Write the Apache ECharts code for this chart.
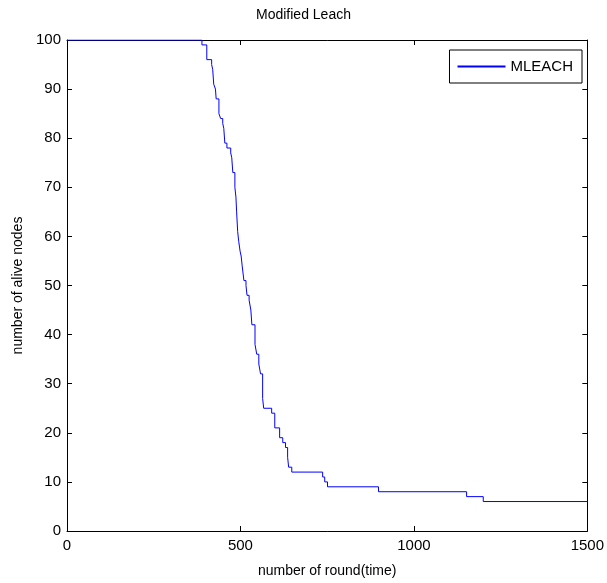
<!DOCTYPE html>
<html>
<head>
<meta charset="utf-8">
<script src="https://cdn.jsdelivr.net/npm/echarts@6/dist/echarts.min.js"></script>
<style>html,body{margin:0;padding:0;background:#fff}#c{width:607px;height:583px}</style>
</head>
<body>
<div id="c"></div>
<script>
const rounds = [0,389,403,417,420,423,428,430,438,443,449,452,455,461,472,475,478,484,487,489,492,495,499,502,505,510,516,519,525,530,533,542,547,553,558,564,567,590,599,613,622,630,636,639,648,737,743,751,898,1152,1200,1500];
const aliveNodes = [100,99,96,95,94,91,90,88,85,84,83,82,79,78,77,76,73,70,68,65,61,59,57,56,54,51,50,48,47,45,42,38,36,34,32,27,25,24,21,19,18,17,15,13,12,11,10,9,8,7,6,6];
const xTicks = [0,500,1000,1500];
const yTicks = [0,10,20,30,40,50,60,70,80,90,100];
const seriesName = 'MLEACH';

const font = 'Liberation Sans, Arial, sans-serif';
const chart = echarts.init(document.getElementById('c'), null, {renderer:'canvas'});
const axisCommon = {
  axisLine:{show:true, onZero:false, lineStyle:{color:'#000', width:1}},
  axisTick:{show:true, inside:true, length:5, lineStyle:{color:'#000'}},
  splitLine:{show:false}
};
chart.setOption({
  animation:false,
  backgroundColor:'#fff',
  color:['#0000ff'],
  title:{text:'Modified Leach', left:'center', top:3, textStyle:{fontFamily:font, fontSize:14, fontWeight:'normal', color:'#000'}},
  grid:{left:67, right:19, top:40, bottom:51, containLabel:false},
  legend:{data:[{name:seriesName, icon:'path://M0 0H48V2H0Z', itemStyle:{color:'#0000ff', borderWidth:0, opacity:1}}],
    right:25, top:50, orient:'vertical', itemWidth:48, itemHeight:2,
    itemStyle:{color:'#0000ff', borderWidth:0},
    borderColor:'#000', borderWidth:1, borderRadius:0, backgroundColor:'#fff', padding:[9,9,9,8],
    textStyle:{fontFamily:font, fontSize:15, color:'#000'}},
  xAxis:[
    Object.assign({type:'value', min:xTicks[0], max:xTicks[xTicks.length-1], interval:xTicks[1]-xTicks[0], position:'bottom',
      axisLabel:{color:'#000', fontFamily:font, fontSize:15, margin:7, formatter:v=>String(v)},
      name:'number of round(time)', nameLocation:'middle', nameGap:33,
      nameTextStyle:{fontFamily:font, fontSize:14, color:'#000'}}, axisCommon),
    Object.assign({type:'value', min:xTicks[0], max:xTicks[xTicks.length-1], interval:xTicks[1]-xTicks[0], position:'top',
      axisLabel:{show:false}}, axisCommon)
  ],
  yAxis:[
    Object.assign({type:'value', min:yTicks[0], max:yTicks[yTicks.length-1], interval:yTicks[1]-yTicks[0], position:'left',
      axisLabel:{color:'#000', fontFamily:font, fontSize:15, margin:6, formatter:v=>String(v)},
      name:'number of alive nodes', nameLocation:'middle', nameGap:41,
      nameTextStyle:{fontFamily:font, fontSize:14, color:'#000'}}, axisCommon),
    Object.assign({type:'value', min:yTicks[0], max:yTicks[yTicks.length-1], interval:yTicks[1]-yTicks[0], position:'right',
      axisLabel:{show:false}}, axisCommon)
  ],
  series:[{
    name:seriesName, type:'line', step:'end', showSymbol:false, symbol:'none',
    xAxisIndex:0, yAxisIndex:0,
    color:'#0000ff',
    itemStyle:{color:'#0000ff'},
    lineStyle:{color:'#0000ff', width:1},
    data: rounds.map((r,i)=>[r, aliveNodes[i]])
  }]
});
</script>
</body>
</html>
